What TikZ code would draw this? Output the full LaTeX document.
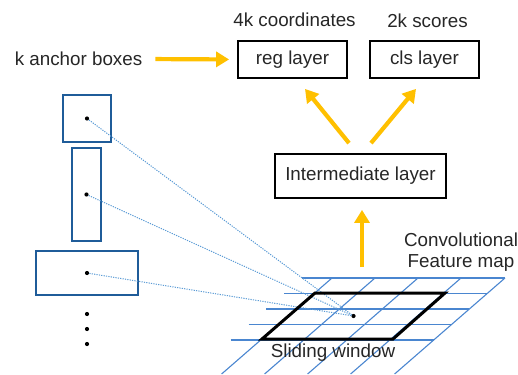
\documentclass[tikz,border=0pt]{standalone}
\usepackage{fontspec}
\setmainfont{Liberation Sans}
\usetikzlibrary{arrows.meta}
\definecolor{arrowyellow}{HTML}{FFC000}
\definecolor{boxblue}{HTML}{1F5C99}
\definecolor{gridblue}{HTML}{4A86D0}
\definecolor{rayblue}{HTML}{5B9BD5}
\definecolor{textgray}{HTML}{262626}
\begin{document}
\begin{tikzpicture}
[x=1pt, y=-1pt,
 every node/.style={font=\fontsize{18.8}{21}\selectfont, text=textgray, inner sep=0pt},
 layer/.style={draw=black, line width=1.8pt, minimum height=37pt},
 arr/.style={draw=arrowyellow, line width=4.2pt, -{Triangle[width=15pt,length=13pt]}},
 anchorbox/.style={draw=boxblue, line width=2.4pt},
 dot/.style={shape=circle, fill=black, minimum size=4.2pt},
 ray/.style={draw=rayblue, line width=1pt, dash pattern=on 1.2pt off 1.2pt},
 gridline/.style={draw=gridblue, line width=1.1pt}]
\useasboundingbox (0,0) rectangle (518,374);
% layers
\node[layer, minimum width=109pt] (reg) at (292.5,59.5) {reg layer};
\node[layer, minimum width=109pt] (cls) at (424.5,59.5) {cls layer};
\node[layer, minimum width=171pt, minimum height=44pt] (inter) at (360.5,176) {Intermediate layer};
\node (regout) at (294.5,20) {4k coordinates};
\node (clsout) at (427.5,21) {2k scores};
\node (anchortxt) at (78.5,59) {k anchor boxes};
% feature map
\foreach \y in {278,293.5,309,324.5,340}
  \draw[gridline] ({302-1.15*(\y-278)},\y) -- ({505-1.15*(\y-278)},\y);
\foreach \x in {332,375,418,461,505}
  \draw[gridline] (\x,278) -- ({\x-1.15*96},374);
\node[align=center] (fmaplabel) at (461,252.5) {Convolutional\\Feature map};
\coordinate (fmtop) at (362,278);
% anchor boxes
\node[anchorbox, minimum width=48pt, minimum height=47pt] (box1) at (87,118.5) {};
\node[anchorbox, minimum width=29pt, minimum height=93pt] (box2) at (86.5,194.5) {};
\node[anchorbox, minimum width=102pt, minimum height=44pt] (box3) at (87,273) {};
\node[dot] (wc) at (353.5,316) {};
\foreach \b in {box1,box2,box3} {
  \draw[ray] (\b.center) -- (wc);
  \node[dot] at (\b.center) {};
}
\foreach \i/\y in {1/314,2/329,3/344}
  \node[dot] (more\i) at (87,\y) {};
% sliding window
\draw[line width=3pt] (315,293) -- (445,293) -- (393,339) -- (262,339) -- cycle;
\node (winlabel) at (333,353) {Sliding window};
% arrows
\draw[arr, shorten <=13pt, shorten >=8pt] (anchortxt.east) -- (reg.west);
\draw[arr] ([xshift=-11.5pt,yshift=10pt]inter.north) -- ([xshift=12.5pt,yshift=-10pt]reg.south);
\draw[arr] ([xshift=10.5pt,yshift=10pt]inter.north) -- ([xshift=-8.5pt,yshift=-10pt]cls.south);
\draw[arr, shorten <=11pt, shorten >=11pt] (fmtop) -- (fmtop |- inter.south);
\end{tikzpicture}
\end{document}
